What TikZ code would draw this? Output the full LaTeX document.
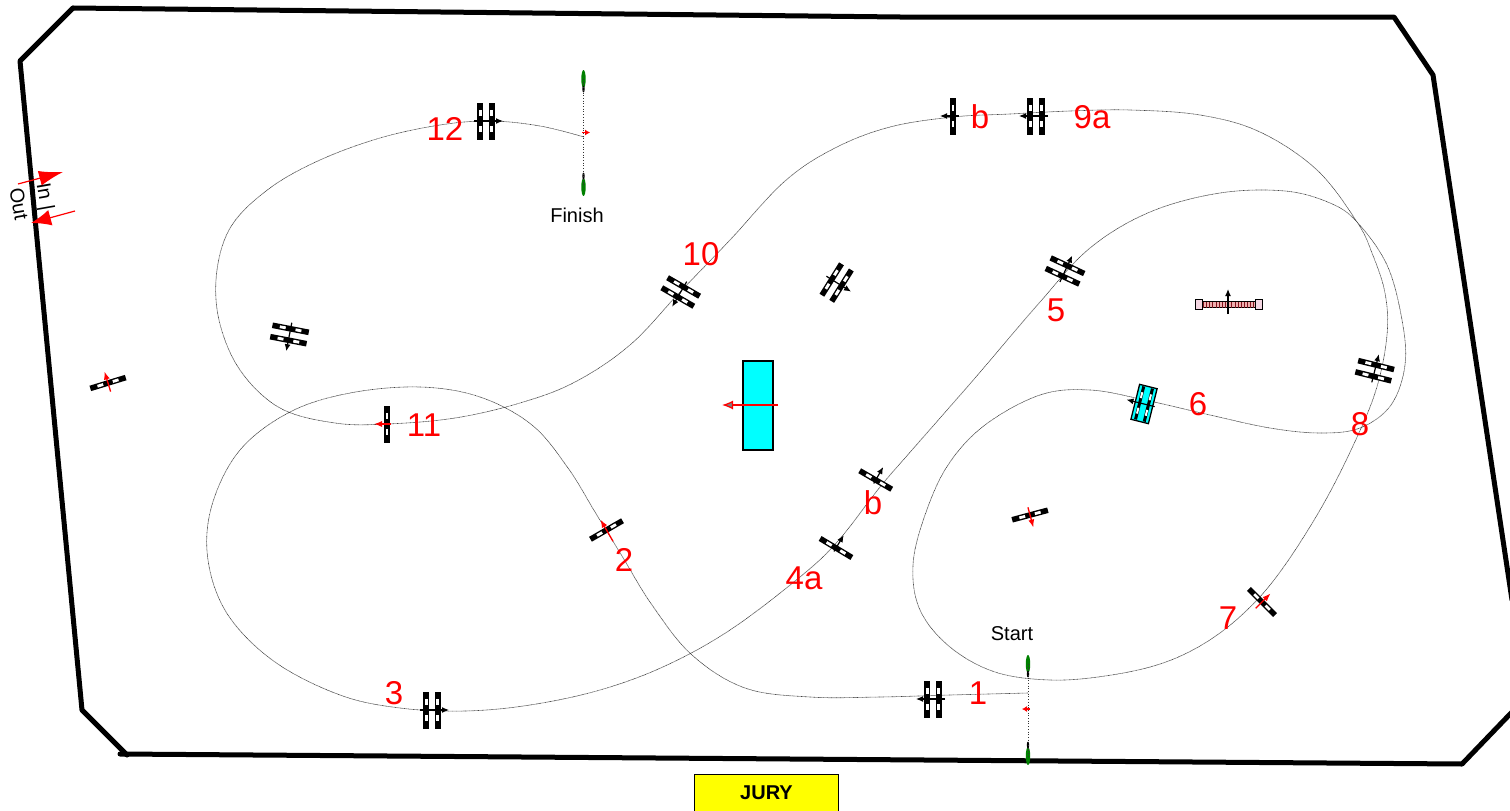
\documentclass[tikz,border=0pt]{standalone}
\usepackage{fontspec}
\setmainfont{Liberation Sans}
\usetikzlibrary{arrows.meta}
\definecolor{flaggreen}{RGB}{0,128,0}
\definecolor{gatepink}{RGB}{240,175,175}
\definecolor{gatered}{RGB}{130,20,30}
\definecolor{postpink}{RGB}{244,214,226}
\definecolor{purecyan}{RGB}{0,255,255}
\definecolor{pureyellow}{RGB}{255,255,0}
\tikzset{
  x=1pt,y=-1pt,
  border/.style={line width=5pt,line join=round,line cap=round},
  course/.style={line width=.6pt,dash pattern=on .8pt off .5pt,black!75},
  startline/.style={line width=.7pt,dotted,black!80},
  numlabel/.style={text=red,font=\fontsize{33}{36}\selectfont,inner sep=0pt},
  smalllabel/.style={font=\fontsize{20}{22}\selectfont,inner sep=0pt},
  gatearrow/.style={line width=1.2pt,-{Latex[length=7pt,width=6pt]}},
  redarrow/.style={red,line width=1.3pt,-{Latex[length=8pt,width=6pt]}},
}
% one barred rail, horizontal in local coordinates
\newcommand{\gaterail}[1]{%
  \begin{scope}[yshift=#1]
    \fill[black] (-18.5,-2.8) rectangle (18.5,2.8);
    \fill[white] (-11,-1.4) rectangle (-5,1.4);
    \fill[white] (5,-1.4) rectangle (11,1.4);
  \end{scope}}
% \singlegate{name}{x}{y}{angle}{arrow style}{tail}{head}
\newcommand{\singlegate}[7]{%
  \begin{scope}[shift={(#2,#3)},rotate=#4]
    \gaterail{0pt}
    \coordinate (#1-t) at (0,#6);
    \coordinate (#1-h) at (0,-#7);
    \draw[#5] (#1-t) -- (#1-h);
  \end{scope}}
\newcommand{\doublegate}[5]{%
  \begin{scope}[shift={(#2,#3)},rotate=#4]
    \gaterail{-5.8pt}
    \gaterail{5.8pt}
    \coordinate (#1-t) at (0,12);
    \coordinate (#1-h) at (0,-17);
    \fill[#5] (0,-5.8) circle (2);
    \fill[#5] (0,5.8) circle (2);
    \draw[gatearrow] (#1-t) -- (#1-h);
  \end{scope}}
\newcommand{\flag}[4]{%
  \fill[flaggreen] (#1,#2) ellipse (2.2 and 9);
  \fill[black] (#1,#4) ellipse (1.2 and 3.5);
  \coordinate (#3) at (#1,#2);}
\begin{document}
\begin{tikzpicture}
\useasboundingbox (0,0) rectangle (1510,811);
% arena
\draw[border] (73,8) -- (900,17) -- (1394,17) -- (1433,75) -- (1512,600);
\draw[border] (73,8) -- (20,61) -- (82,710) -- (127,755);
\draw[border] (120,754) -- (1462,764) -- (1512,712);
% course
\coordinate (S) at (1028,693);
\coordinate (F) at (584,137);
\draw[course] plot[smooth,tension=.6] coordinates {
 (S) (950,695) (880,697) (810,697) (745,688) (692,655) (652,605) (622,556)
 (595,512) (568,468) (532,425) (480,397) (420,387) (350,393) (290,412)
 (240,450) (212,505) (208,560) (228,615) (275,662) (340,695) (400,708)
 (465,711) (530,705) (600,690) (665,666) (730,630) (800,577) (838,541)
 (880,487) (912,450) (975,378) (1040,302) (1090,248) (1150,212) (1220,193)
 (1285,191) (1330,203) (1357,222) (1387,265) (1402,320) (1405,365) (1391,405)
 (1360,428) (1320,433) (1270,428) (1210,415) (1145,400) (1090,390) (1040,395)
 (985,425) (948,465) (925,515) (913,565) (920,610) (950,647) (995,672)
 (1050,680) (1105,676) (1160,664) (1205,643) (1245,612) (1280,572) (1320,510)
 (1352,448) (1376,390) (1387,335) (1385,293) (1372,253) (1357,222) (1317,170)
 (1260,132) (1200,115) (1130,110) (1070,111) (1010,114) (953,117) (890,127)
 (835,148) (785,181) (730,240) (680,292) (630,345) (575,382) (520,403)
 (455,418) (387,424) (335,423) (280,408) (240,370) (219,320) (217,270)
 (232,225) (270,188) (320,160) (380,138) (440,125) (490,121) (540,126) (F)};
% start and finish
\flag{1028}{664}{st1}{674}
\flag{1028}{756}{st2}{745}
\flag{583.5}{79}{fi1}{89}
\flag{583.5}{187}{fi2}{176}
\draw[startline] (st1) -- (st2);
\draw[startline] (fi1) -- (fi2);
\coordinate (sta1) at (1030,709);
\coordinate (sta2) at (1022,709);
\coordinate (fia1) at (582,132.5);
\coordinate (fia2) at (590,132.5);
\draw[red,line width=1.3pt,-{Latex[length=5pt,width=6pt]}] (sta1) -- (sta2);
\draw[red,line width=1.3pt,-{Latex[length=5pt,width=6pt]}] (fia1) -- (fia2);
% gates
\doublegate{g12}{486}{121}{-90}{black}
\singlegate{g9b}{953}{116}{90}{gatearrow}{6}{13}
\doublegate{g9a}{1036}{116}{90}{black}
\doublegate{g10}{680.7}{292}{150}{black}
\doublegate{gx1}{836.6}{282.6}{238}{black}
\doublegate{gx2}{1065}{271}{-25}{black}
\doublegate{gx3}{1374.7}{370.7}{-14}{black}
\doublegate{gx4}{289.5}{334.5}{169}{black}
\singlegate{g11}{387}{424}{90}{redarrow}{4}{13}
\singlegate{gx5}{108}{383}{17}{redarrow}{9}{12}
\singlegate{g2}{606.5}{530}{30}{redarrow}{13}{12}
\doublegate{g3}{432}{710}{-90}{black}
\doublegate{g1}{933}{699}{90}{black}
\singlegate{g4a}{836}{548}{-31}{gatearrow}{4}{15}
\singlegate{g4b}{875.7}{480}{-30}{gatearrow}{4}{15}
\singlegate{gx6}{1030}{515}{195}{redarrow}{8}{13}
\singlegate{g7}{1262}{602}{-45}{redarrow}{9}{12}
% water jump
\node[draw=black,line width=1.1pt,fill=purecyan,minimum width=30pt,minimum height=89pt,inner sep=0pt] (water) at (758,405.5) {};
\coordinate (wt) at (778,405);
\coordinate (wh) at (722,405);
\draw[red,line width=1.2pt,-{Latex[length=11pt,width=9pt,fill=gray]}] (wt) -- (wh);
% liverpool
\node[draw=black,line width=1.3pt,fill=purecyan,minimum width=18pt,minimum height=36pt,inner sep=0pt,rotate=-14] (liver) at (1144,404) {};
\begin{scope}[shift={(1144,404)},rotate=76]
  \foreach \r in {-4.5,4.5}{
    \fill[black] (-17,\r-1.5) rectangle (17,\r+1.5);
    \fill[white] (-11,\r-1) rectangle (-5,\r+1);
    \fill[white] (5,\r-1) rectangle (11,\r+1);
  }
  \coordinate (lt) at (0,11);
  \coordinate (lh) at (0,-18);
  \draw[gatearrow] (lt) -- (lh);
\end{scope}
% wall
\node[draw=black,line width=.7pt,fill=gatepink,minimum width=54pt,minimum height=6pt,inner sep=0pt] (wall) at (1228.5,304.5) {};
\foreach \i in {0,...,16}{
  \fill[gatered] (1203+\i*3.15,301.5) rectangle (1204+\i*3.15,307.5);
}
\node[draw=black,line width=.7pt,fill=postpink,minimum width=7pt,minimum height=10pt,inner sep=0pt] (wl) at (1198.5,304) {};
\node[draw=black,line width=.7pt,fill=postpink,minimum width=7pt,minimum height=10pt,inner sep=0pt] (wr) at (1258.5,304) {};
\coordinate (wat) at (1228,314);
\coordinate (wah) at (1228,289);
\draw[gatearrow] (wat) -- (wah);
% numbers
\node[numlabel] (n12) at (445,129) {12};
\node[numlabel] (n9b) at (980,117) {b};
\node[numlabel] (n9a) at (1092,117) {9a};
\node[numlabel] (n10) at (701,254) {10};
\node[numlabel] (n5) at (1056,310) {5};
\node[numlabel] (n6) at (1198,404) {6};
\node[numlabel] (n8) at (1360,424) {8};
\node[numlabel] (n11) at (424,425) {11};
\node[numlabel] (n2) at (624,560) {2};
\node[numlabel] (n4b) at (873,503) {b};
\node[numlabel] (n4a) at (804,578) {4a};
\node[numlabel] (n7) at (1228,618) {7};
\node[numlabel] (n3) at (394,693) {3};
\node[numlabel] (n1) at (978,693) {1};
\node[smalllabel] (fin) at (577,215) {Finish};
\node[smalllabel] (sta) at (1012,634) {Start};
% in out
\node[smalllabel,rotate=-80] (outl) at (19,204) {Out};
\node[smalllabel,rotate=-80] (inl) at (44,197) {In |};
\coordinate (ia) at (18,184);
\coordinate (ib) at (63,172);
\draw[red,line width=1.2pt,-{Latex[length=24pt,width=15pt]}] (ia) -- (ib);
\coordinate (oa) at (75,211);
\coordinate (ob) at (31,223);
\draw[red,line width=1.2pt,-{Latex[length=20pt,width=16pt]}] (oa) -- (ob);
% jury
\node[draw=black,line width=.8pt,fill=pureyellow,minimum width=144pt,minimum height=37pt,inner sep=0pt,font=\bfseries\fontsize{20}{22}\selectfont] (jury) at (766.5,792.5) {JURY};
\end{tikzpicture}
\end{document}
